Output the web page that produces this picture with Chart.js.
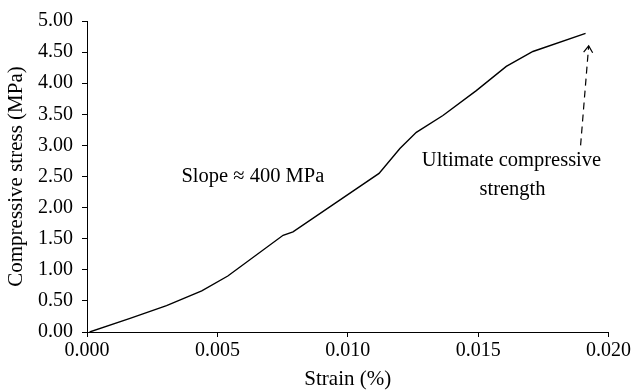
<!DOCTYPE html>
<html>
<head>
<meta charset="utf-8">
<script src="https://cdn.jsdelivr.net/npm/chart.js@4.4.0/dist/chart.umd.min.js"></script>
<style>
    html, body { margin: 0; padding: 0; background: #fff; }
    #wrap { width: 633px; height: 392px; }
</style>
</head>
<body>
<div id="wrap"><canvas id="stressChart"></canvas></div>
<script>
// 应力-应变曲线数据
const strain = [0.0001, 0.00165, 0.00305, 0.0044, 0.0054, 0.00752, 0.0079, 0.0112, 0.0120, 0.01263, 0.01365, 0.01493, 0.01608, 0.0171, 0.01912];
const stress = [0, 0.22, 0.425, 0.66, 0.90, 1.555, 1.61, 2.55, 2.95, 3.21, 3.48, 3.88, 4.27, 4.51, 4.80];

const xTicks = [0, 0.005, 0.010, 0.015, 0.020];
const yTicks = [0, 0.5, 1, 1.5, 2, 2.5, 3, 3.5, 4, 4.5, 5];

// 注释 (数据坐标)
const slopeNote = 'Slope ≈ 400 MPa';
const slopeNoteAt = [0.00636, 2.50];
const ultimateNote = ['Ultimate compressive', 'strength'];
const ultimateNoteAt = [[0.01628, 2.75], [0.01632, 2.29]];
const arrowFrom = [0.01893, 3.00];
const arrowTo = [0.01924, 4.60];

const serif = '"Liberation Serif", "DejaVu Serif", serif';
const tickSize = 20;
const textSize = 20.5;
const titleSize = 21;

// 画注释文字和虚线箭头
const notesPlugin = {
    id: 'notes',
    afterDatasetsDraw(chart) {
        const ctx = chart.ctx;
        const x = chart.scales.x;
        const y = chart.scales.y;
        ctx.save();
        ctx.fillStyle = '#000';
        ctx.font = textSize + 'px ' + serif;
        ctx.textAlign = 'center';
        ctx.textBaseline = 'middle';
        ctx.fillText(slopeNote, x.getPixelForValue(slopeNoteAt[0]), y.getPixelForValue(slopeNoteAt[1]));
        ultimateNote.forEach((t, i) => {
            ctx.fillText(t, x.getPixelForValue(ultimateNoteAt[i][0]), y.getPixelForValue(ultimateNoteAt[i][1]));
        });

        const x0 = x.getPixelForValue(arrowFrom[0]);
        const y0 = y.getPixelForValue(arrowFrom[1]);
        const x1 = x.getPixelForValue(arrowTo[0]);
        const y1 = y.getPixelForValue(arrowTo[1]);
        ctx.strokeStyle = '#000';
        ctx.lineWidth = 1.2;
        ctx.setLineDash([7, 5]);
        ctx.beginPath();
        ctx.moveTo(x0, y0);
        ctx.lineTo(x1, y1);
        ctx.stroke();
        ctx.setLineDash([]);
        const ang = Math.atan2(y1 - y0, x1 - x0);
        const len = 8;
        ctx.beginPath();
        ctx.moveTo(x1 + len * Math.cos(ang + Math.PI - 0.6), y1 + len * Math.sin(ang + Math.PI - 0.6));
        ctx.lineTo(x1, y1);
        ctx.lineTo(x1 + len * Math.cos(ang + Math.PI + 0.6), y1 + len * Math.sin(ang + Math.PI + 0.6));
        ctx.stroke();
        ctx.restore();
    }
};

const ctx = document.getElementById('stressChart').getContext('2d');
new Chart(ctx, {
    type: 'scatter',
    data: {
        datasets: [{
            data: strain.map((s, i) => ({ x: s, y: stress[i] })),
            showLine: true,
            borderColor: '#000',
            borderWidth: 1.4,
            pointRadius: 0,
            tension: 0
        }]
    },
    options: {
        responsive: true,
        maintainAspectRatio: false,
        animation: false,
        layout: { padding: { top: 17, right: 23, left: 0, bottom: 0 } },
        plugins: {
            legend: { display: false },
            tooltip: { enabled: false }
        },
        scales: {
            x: {
                type: 'linear',
                min: 0,
                max: 0.02,
                afterFit(scale) { scale.height = 60; },
                afterBuildTicks(scale) { scale.ticks = xTicks.map(v => ({ value: v })); },
                ticks: {
                    color: '#000',
                    font: { family: serif, size: tickSize },
                    padding: 2,
                    maxRotation: 0,
                    callback: v => v.toFixed(3)
                },
                grid: { drawOnChartArea: false, tickLength: 5, color: '#000' },
                border: { color: '#000', width: 1 },
                title: {
                    display: true,
                    text: 'Strain (%)',
                    color: '#000',
                    font: { family: serif, size: titleSize },
                    padding: { top: 0, bottom: 0 }
                }
            },
            y: {
                min: 0,
                max: 5,
                afterFit(scale) { scale.width = 87; },
                afterBuildTicks(scale) { scale.ticks = yTicks.map(v => ({ value: v })); },
                ticks: {
                    color: '#000',
                    font: { family: serif, size: tickSize },
                    padding: 9,
                    callback: v => v.toFixed(2)
                },
                grid: { drawOnChartArea: false, tickLength: 5, color: '#000' },
                border: { color: '#000', width: 1 },
                title: {
                    display: true,
                    text: 'Compressive stress (MPa)',
                    color: '#000',
                    font: { family: serif, size: titleSize },
                    padding: { top: 4, bottom: 0 }
                }
            }
        }
    },
    plugins: [notesPlugin]
});
</script>
</body>
</html>
